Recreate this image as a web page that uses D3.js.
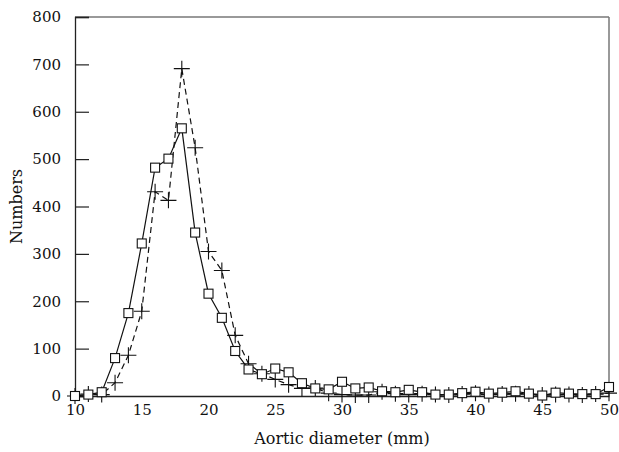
<!DOCTYPE html>
<html>
<head>
<meta charset="utf-8">
<script src="https://cdn.jsdelivr.net/npm/d3@7"></script>
<style>
  body { margin: 0; background: #fff; }
  text { font-family: "DejaVu Serif", serif; fill: #111; }
</style>
</head>
<body>
<div id="chart"></div>
<script>
// aortic diameter (mm)
var diameters = d3.range(10, 51)

// solid line, square markers
var squareSeries = [0, 3, 8, 80, 175, 322, 482, 501, 565, 345,
                    216, 165, 95, 56, 46, 58, 50, 27, 16, 14,
                    30, 16, 18, 10, 8, 13, 8, 3, 3, 6,
                    9, 5, 7, 10, 5, 1, 7, 5, 4, 4, 19]

// dashed line, cross markers
var crossSeries = [0, 4, 3, 28, 86, 179, 431, 413, 691, 524,
                   305, 265, 128, 68, 47, 35, 24, 16, 17, 6,
                   3, 2, 2, 9, 5, 3, 5, 3, 2, 4,
                   6, 3, 4, 5, 4, 2, 3, 3, 2, 4, 6]

var xTicks = [10, 15, 20, 25, 30, 35, 40, 45, 50]
var yTicks = [0, 100, 200, 300, 400, 500, 600, 700, 800]

var W = 619, H = 452
var margin = {top: 17, right: 10, bottom: 56, left: 75},
    width = W - margin.left - margin.right,
    height = H - margin.top - margin.bottom

var svg = d3.select("#chart").append("svg")
    .attr("width", W)
    .attr("height", H)
  .append("g")
    .attr("transform", "translate(" + margin.left + "," + margin.top + ")")

var x = d3.scaleLinear().domain([10, 50]).range([0, width])
var y = d3.scaleLinear().domain([0, 800]).range([height, 0])

// frame: top and right in grey
svg.append("line")
    .attr("x1", 0).attr("x2", width).attr("y1", 0).attr("y2", 0)
    .attr("stroke", "#777").attr("stroke-width", 1.5)
svg.append("line")
    .attr("x1", width).attr("x2", width).attr("y1", 0).attr("y2", height)
    .attr("stroke", "#777").attr("stroke-width", 1.5)

// y axis, ticks pointing in
var yAxis = d3.axisLeft(y).tickValues(yTicks).tickSize(-14).tickPadding(14)
var gy = svg.append("g").call(yAxis)
gy.select(".domain").attr("stroke", "#222").attr("stroke-width", 1.3)
gy.selectAll(".tick line").attr("stroke", "#222").attr("stroke-width", 1.2)
gy.selectAll(".tick text").style("font-size", "15px").style("font-family", "DejaVu Serif, serif")

// x axis, labels only
var xAxis = d3.axisBottom(x).tickValues(xTicks).tickSize(0).tickPadding(8)
var gx = svg.append("g")
    .attr("transform", "translate(0," + height + ")")
    .call(xAxis)
gx.select(".domain").attr("stroke", "#222").attr("stroke-width", 1.3)
gx.selectAll(".tick text").style("font-size", "15px").style("font-family", "DejaVu Serif, serif")

// axis titles
svg.append("text")
    .attr("x", width / 2)
    .attr("y", height + 48)
    .attr("text-anchor", "middle")
    .style("font-size", "16px")
    .text("Aortic diameter (mm)")

svg.append("text")
    .attr("transform", "rotate(-90)")
    .attr("x", -height / 2)
    .attr("y", -53)
    .attr("text-anchor", "middle")
    .style("font-size", "16px")
    .text("Numbers")

var sqData = diameters.map(function(d, i) { return {x: d, y: squareSeries[i]} })
var crData = diameters.map(function(d, i) { return {x: d, y: crossSeries[i]} })

var line = d3.line()
    .x(function(d) { return x(d.x) })
    .y(function(d) { return y(d.y) })

// dashed series
svg.append("path")
    .datum(crData)
    .attr("d", line)
    .attr("fill", "none")
    .attr("stroke", "#111")
    .attr("stroke-width", 1.2)
    .attr("stroke-dasharray", "6,4")

svg.append("g").selectAll("path")
    .data(crData)
    .enter().append("path")
      .attr("d", function(d) {
        var cx = x(d.x), cy = y(d.y), r = 8
        return "M" + (cx - r) + "," + cy + "H" + (cx + r) +
               "M" + cx + "," + (cy - r) + "V" + (cy + r)
      })
      .attr("stroke", "#111")
      .attr("stroke-width", 1.1)

// solid series
svg.append("path")
    .datum(sqData)
    .attr("d", line)
    .attr("fill", "none")
    .attr("stroke", "#111")
    .attr("stroke-width", 1.2)

svg.append("g").selectAll("rect")
    .data(sqData)
    .enter().append("rect")
      .attr("x", function(d) { return x(d.x) - 4.5 })
      .attr("y", function(d) { return y(d.y) - 4.5 })
      .attr("width", 9)
      .attr("height", 9)
      .attr("fill", "#fff")
      .attr("stroke", "#111")
      .attr("stroke-width", 1.1)
</script>
</body>
</html>
